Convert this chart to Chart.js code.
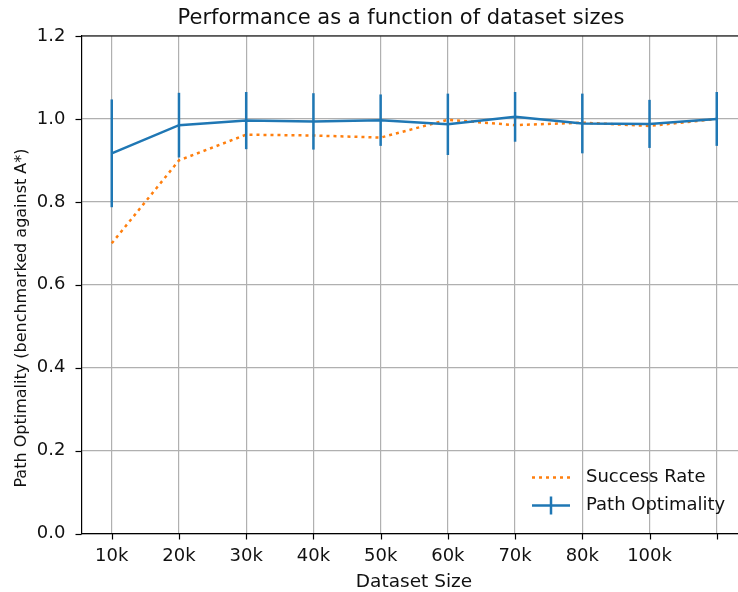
<!DOCTYPE html>
<html>
<head>
<meta charset="utf-8">
<script src="https://cdn.jsdelivr.net/npm/chart.js@4.4.1/dist/chart.umd.min.js"></script>
<style>
  html, body { margin: 0; padding: 0; background: #fff; overflow: hidden; }
  #wrap { width: 738px; height: 592px; overflow: hidden; }
  canvas { display: block; }
</style>
</head>
<body>
<div id="wrap"><canvas id="chart" width="747" height="592"></canvas></div>
<script>
const xIndex = [0, 1, 2, 3, 4, 5, 6, 7, 8, 9];
const sizeLabels = ["10k", "20k", "30k", "40k", "50k", "60k", "70k", "80k", "100k", ""];
const successRate = [0.700, 0.900, 0.962, 0.960, 0.955, 0.998, 0.985, 0.991, 0.983, 1.000];
const optimality = [0.917, 0.985, 0.996, 0.994, 0.997, 0.987, 1.005, 0.989, 0.988, 1.000];
const optimalityErr = [0.130, 0.078, 0.069, 0.068, 0.062, 0.074, 0.060, 0.072, 0.058, 0.065];
const yTicks = [0, 0.2, 0.4, 0.6, 0.8, 1.0, 1.2];

const chartTitle = "Performance as a function of dataset sizes";
const xTitle = "Dataset Size";
const yTitle = "Path Optimality (benchmarked against A*)";

const BLUE = "#1f77b4";
const ORANGE = "#ff7f0e";
const FONT = '"DejaVu Sans", sans-serif';
const TEXT = "#111";

function line(ctx, x1, y1, x2, y2) {
  ctx.beginPath();
  ctx.moveTo(x1, y1);
  ctx.lineTo(x2, y2);
  ctx.stroke();
}

const decor = {
  id: "decor",
  afterDatasetsDraw(chart) {
    const { ctx, scales: { x, y } } = chart;
    ctx.save();
    ctx.strokeStyle = BLUE;
    ctx.lineWidth = 2.5;
    xIndex.forEach((i) => {
      const px = x.getPixelForValue(i);
      line(ctx, px, y.getPixelForValue(optimality[i] + optimalityErr[i]),
        px, y.getPixelForValue(optimality[i] - optimalityErr[i]));
    });
    ctx.restore();
  },
  afterDraw(chart) {
    const { ctx, chartArea: a, scales: { x, y } } = chart;
    ctx.save();

    // top spine and outward tick marks
    ctx.strokeStyle = "#000";
    ctx.lineWidth = 1.2;
    line(ctx, a.left, a.top, a.right, a.top);
    xIndex.forEach((i) => {
      const px = Math.round(x.getPixelForValue(i)) + 0.5;
      line(ctx, px, a.bottom, px, a.bottom + 6);
    });
    yTicks.forEach((v) => {
      const py = Math.round(y.getPixelForValue(v)) + 0.5;
      line(ctx, a.left - 6, py, a.left, py);
    });

    // titles
    ctx.fillStyle = TEXT;
    ctx.textAlign = "center";
    ctx.textBaseline = "alphabetic";
    ctx.font = "21px " + FONT;
    ctx.fillText(chartTitle, 401, 24);
    ctx.font = "18.5px " + FONT;
    ctx.fillText(xTitle, 414, 587);
    ctx.save();
    ctx.translate(26, 318);
    ctx.rotate(-Math.PI / 2);
    ctx.font = "16px " + FONT;
    ctx.fillText(yTitle, 0, 0);
    ctx.restore();

    // legend, bottom right
    const hx1 = a.right - 215, hx2 = a.right - 177, tx = a.right - 161;
    const r1 = a.bottom - 56, r2 = a.bottom - 28;
    ctx.lineWidth = 2.5;
    ctx.strokeStyle = ORANGE;
    ctx.setLineDash([3, 4]);
    line(ctx, hx1, r1, hx2, r1);
    ctx.setLineDash([]);
    ctx.strokeStyle = BLUE;
    line(ctx, hx1, r2, hx2, r2);
    line(ctx, (hx1 + hx2) / 2, r2 - 9, (hx1 + hx2) / 2, r2 + 9);
    ctx.textAlign = "left";
    ctx.textBaseline = "middle";
    ctx.font = "18px " + FONT;
    ctx.fillText("Success Rate", tx, r1);
    ctx.fillText("Path Optimality", tx, r2);

    ctx.restore();
  }
};

new Chart(document.getElementById("chart"), {
  type: "line",
  data: {
    datasets: [
      {
        label: "Path Optimality",
        data: xIndex.map((i) => ({ x: i, y: optimality[i] })),
        borderColor: BLUE,
        borderWidth: 2.5,
        pointRadius: 0,
        tension: 0,
        order: 0
      },
      {
        label: "Success Rate",
        data: xIndex.map((i) => ({ x: i, y: successRate[i] })),
        borderColor: ORANGE,
        borderWidth: 2.5,
        borderDash: [3, 4],
        pointRadius: 0,
        tension: 0,
        order: 1
      }
    ]
  },
  options: {
    responsive: false,
    animation: false,
    devicePixelRatio: 1,
    layout: { padding: { top: 36, left: 0, right: 0, bottom: 0 } },
    plugins: { legend: { display: false }, tooltip: { enabled: false }, title: { display: false } },
    scales: {
      x: {
        type: "linear",
        min: -0.45,
        max: 9.45,
        afterBuildTicks: (s) => { s.ticks = xIndex.map((v) => ({ value: v })); },
        afterFit: (s) => { s.height = 58.5; },
        ticks: {
          callback: (v) => sizeLabels[v] ?? "",
          autoSkip: false,
          maxRotation: 0,
          padding: 12,
          color: TEXT,
          font: { family: FONT, size: 18 }
        },
        grid: { color: "#b0b0b0", lineWidth: 1.2, drawTicks: false },
        border: { color: "#000", width: 1.2 }
      },
      y: {
        min: 0,
        max: 1.2,
        afterBuildTicks: (s) => { s.ticks = yTicks.map((v) => ({ value: v })); },
        afterFit: (s) => { s.width = 81.5; },
        ticks: {
          callback: (v) => v.toFixed(1),
          padding: 16,
          color: TEXT,
          font: { family: FONT, size: 18 }
        },
        grid: { color: "#b0b0b0", lineWidth: 1.2, drawTicks: false },
        border: { color: "#000", width: 1.2 }
      }
    }
  },
  plugins: [decor]
});
</script>
</body>
</html>
